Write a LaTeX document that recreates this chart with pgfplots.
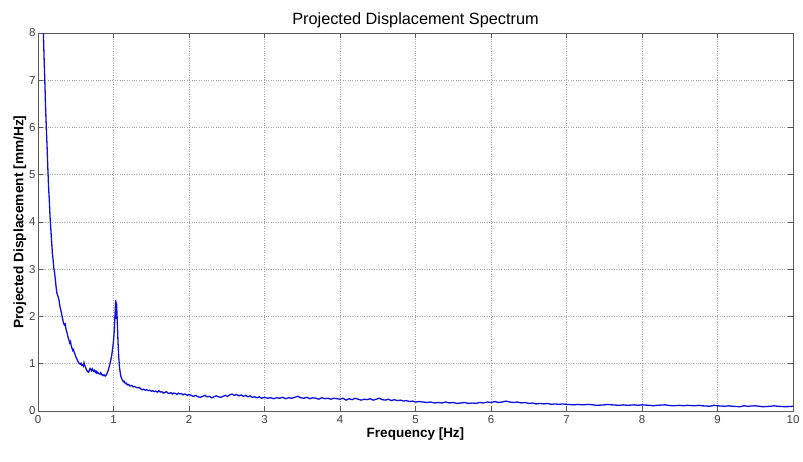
\documentclass[border=0pt]{standalone}
\usepackage{pgfplots}
\pgfplotsset{compat=1.18}
\usepackage{fontspec}
\setmainfont{Liberation Sans}
\definecolor{linecol}{RGB}{15,15,225}
\definecolor{axcol}{RGB}{90,90,90}
\begin{document}
\begin{tikzpicture}
\path[use as bounding box] (0pt,0pt) rectangle (803pt,462pt);
\begin{axis}[
  at={(38pt,51pt)}, anchor=south west,
  scale only axis, width=755pt, height=378pt,
  xmin=0, xmax=10, ymin=0, ymax=8,
  xtick={0,1,...,10}, ytick={0,1,...,8},
  tick pos=both, tick align=inside,
  major tick length=5pt,
  axis line style={axcol, line width=0.8pt},
  every tick/.style={axcol, line width=0.6pt},
  grid=major,
  major grid style={gray!70, dotted, line width=0.7pt},
  /pgf/number format/assume math mode=true,
  tick label style={font=\fontsize{11.5}{13}\selectfont, text=black!75},
  xticklabel style={yshift=-1pt},
  yticklabel style={xshift=1pt},
  title={Projected Displacement Spectrum},
  title style={font=\fontsize{16.3}{18}\selectfont, yshift=-4pt},
  xlabel={\textbf{Frequency [Hz]}},
  ylabel={\textbf{Projected Displacement [mm/Hz]}},
  xlabel style={font=\fontsize{13.5}{15}\selectfont, yshift=3pt},
  ylabel style={font=\fontsize{13.7}{15}\selectfont, yshift=-4pt},
  clip=true,
]
\addplot[linecol, line width=1.3pt] table {
x y
0.060 8.80
0.070 8.10
0.080 7.50
0.090 7.00
0.100 6.45
0.110 6.00
0.120 5.60
0.130 5.15
0.140 4.75
0.150 4.45
0.160 4.10
0.170 3.85
0.180 3.60
0.190 3.35
0.200 3.20
0.210 3.02
0.220 2.92
0.230 2.78
0.240 2.62
0.250 2.50
0.260 2.45
0.270 2.40
0.280 2.33
0.290 2.22
0.300 2.15
0.310 2.08
0.320 2.00
0.330 1.92
0.340 1.85
0.350 1.82
0.360 1.84
0.370 1.74
0.380 1.68
0.390 1.62
0.400 1.55
0.410 1.50
0.420 1.44
0.430 1.47
0.440 1.38
0.450 1.33
0.460 1.28
0.470 1.30
0.480 1.24
0.490 1.20
0.500 1.15
0.510 1.12
0.520 1.08
0.530 1.05
0.540 1.02
0.550 1.00
0.560 0.99
0.570 1.01
0.580 0.97
0.590 0.98
0.600 0.95
0.610 1.02
0.620 0.96
0.630 0.92
0.640 0.88
0.650 0.85
0.660 0.83
0.670 0.82
0.680 0.86
0.690 0.90
0.700 0.88
0.710 0.85
0.720 0.89
0.730 0.86
0.740 0.84
0.750 0.86
0.760 0.82
0.770 0.84
0.780 0.80
0.790 0.82
0.800 0.80
0.810 0.79
0.820 0.78
0.830 0.81
0.840 0.78
0.850 0.76
0.860 0.77
0.870 0.75
0.880 0.76
0.890 0.74
0.900 0.75
0.910 0.78
0.920 0.82
0.930 0.86
0.940 0.92
0.950 0.98
0.960 1.05
0.970 1.12
0.980 1.22
0.990 1.34
1.000 1.48
1.010 1.70
1.020 2.05
1.030 2.35
1.035 1.95
1.040 2.30
1.050 1.90
1.060 1.45
1.070 1.12
1.080 0.92
1.090 0.80
1.100 0.72
1.110 0.68
1.120 0.65
1.130 0.62
1.140 0.63
1.150 0.60
1.160 0.58
1.170 0.59
1.180 0.56
1.190 0.55
1.200 0.56
1.220 0.53
1.240 0.54
1.260 0.51
1.280 0.52
1.300 0.50
1.320 0.49
1.340 0.50
1.360 0.47
1.380 0.45
1.400 0.46
1.420 0.44
1.440 0.45
1.460 0.43
1.480 0.44
1.500 0.42
1.520 0.43
1.540 0.41
1.560 0.42
1.580 0.40
1.600 0.43
1.620 0.40
1.640 0.41
1.660 0.38
1.680 0.39
1.700 0.41
1.720 0.38
1.740 0.37
1.760 0.39
1.780 0.36
1.800 0.38
1.820 0.37
1.840 0.35
1.860 0.38
1.880 0.36
1.900 0.37
1.920 0.34
1.940 0.36
1.960 0.35
1.980 0.33
2.000 0.35
2.030 0.33
2.060 0.31
2.090 0.33
2.120 0.30
2.150 0.29
2.180 0.31
2.210 0.33
2.240 0.30
2.270 0.31
2.300 0.28
2.330 0.30
2.360 0.32
2.390 0.30
2.420 0.29
2.450 0.31
2.480 0.33
2.510 0.31
2.540 0.34
2.570 0.36
2.600 0.33
2.630 0.35
2.660 0.32
2.690 0.34
2.720 0.31
2.750 0.33
2.780 0.30
2.810 0.32
2.840 0.29
2.870 0.30
2.900 0.28
2.930 0.30
2.960 0.27
3.000 0.29
3.040 0.27
3.080 0.28
3.120 0.26
3.160 0.28
3.200 0.27
3.240 0.29
3.280 0.26
3.320 0.28
3.360 0.27
3.400 0.29
3.440 0.31
3.480 0.28
3.520 0.27
3.560 0.29
3.600 0.26
3.640 0.28
3.680 0.27
3.720 0.25
3.760 0.28
3.800 0.26
3.840 0.27
3.880 0.25
3.920 0.27
3.960 0.26
4.000 0.25
4.040 0.27
4.080 0.23
4.120 0.26
4.160 0.24
4.200 0.27
4.240 0.25
4.280 0.23
4.320 0.25
4.360 0.24
4.400 0.26
4.440 0.23
4.480 0.25
4.520 0.27
4.560 0.24
4.600 0.23
4.640 0.25
4.680 0.22
4.720 0.24
4.760 0.22
4.800 0.23
4.840 0.21
4.880 0.22
4.920 0.20
4.960 0.21
5.000 0.19
5.050 0.20
5.100 0.19
5.150 0.18
5.200 0.19
5.250 0.17
5.300 0.18
5.350 0.17
5.400 0.19
5.450 0.17
5.500 0.18
5.550 0.16
5.600 0.17
5.650 0.18
5.700 0.16
5.750 0.17
5.800 0.16
5.850 0.18
5.900 0.17
5.950 0.19
6.000 0.18
6.050 0.20
6.100 0.18
6.150 0.19
6.200 0.21
6.250 0.19
6.300 0.18
6.350 0.19
6.400 0.17
6.450 0.18
6.500 0.16
6.550 0.17
6.600 0.15
6.650 0.16
6.700 0.15
6.750 0.16
6.800 0.14
6.850 0.15
6.900 0.14
6.950 0.15
7.000 0.14
7.100 0.13
7.150 0.14
7.200 0.13
7.300 0.14
7.350 0.13
7.400 0.12
7.500 0.13
7.550 0.14
7.600 0.13
7.700 0.12
7.750 0.13
7.800 0.12
7.900 0.13
7.950 0.12
8.000 0.13
8.100 0.12
8.150 0.11
8.200 0.12
8.300 0.13
8.350 0.12
8.400 0.11
8.500 0.12
8.550 0.11
8.600 0.12
8.700 0.11
8.750 0.12
8.800 0.11
8.900 0.10
8.950 0.12
9.000 0.11
9.100 0.10
9.150 0.11
9.200 0.10
9.300 0.09
9.350 0.11
9.400 0.10
9.500 0.11
9.550 0.10
9.600 0.09
9.700 0.10
9.750 0.11
9.800 0.10
9.900 0.09
10.000 0.10
};
\end{axis}
\end{tikzpicture}
\end{document}
